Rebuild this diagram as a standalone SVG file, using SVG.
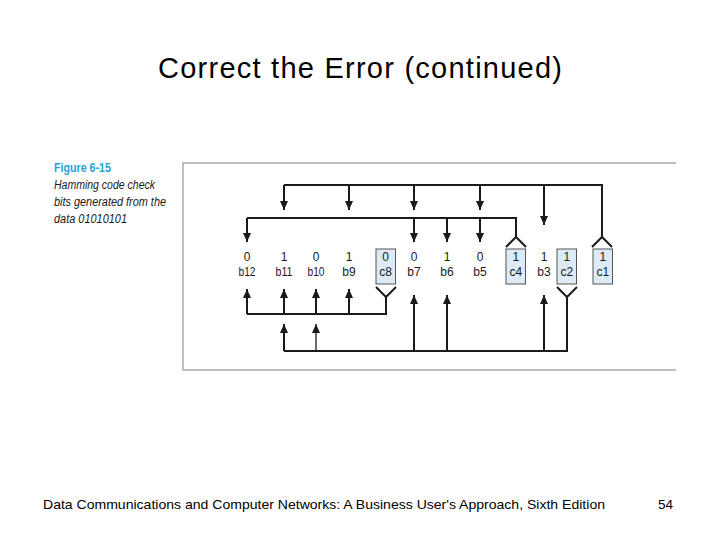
<svg xmlns="http://www.w3.org/2000/svg" width="720" height="540" viewBox="0 0 720 540">
<defs>
<marker id="ah" markerUnits="userSpaceOnUse" markerWidth="9" markerHeight="8" refX="9" refY="4" orient="auto">
<path d="M0,0 L9,4 L0,8 z" fill="#1a1a1a"/>
</marker>
<style>
.ln{fill:none;stroke:#1a1a1a;stroke-width:2;stroke-linejoin:miter}
.ar{fill:none;stroke:#1a1a1a;stroke-width:2;marker-end:url(#ah)}
.box{fill:#dcebf7;stroke:#555;stroke-width:1}
.t{font-family:"Liberation Sans",Arial,sans-serif;font-size:12px;fill:#1a1a1a;text-anchor:middle}
.frame{fill:none;stroke:#aaa;stroke-width:1.5}
.cap{font-family:"Liberation Sans",Arial,sans-serif;font-size:12.5px;font-style:italic;fill:#1a1a1a}
</style>
</defs>
<rect width="720" height="540" fill="#fff"/>
<text x="360" y="78" font-family="Liberation Sans, Arial, sans-serif" font-size="29" text-anchor="middle" textLength="404" lengthAdjust="spacing">Correct the Error (continued)</text>
<text x="43" y="509" font-family="Liberation Sans, Arial, sans-serif" font-size="13.5" textLength="562" lengthAdjust="spacingAndGlyphs">Data Communications and Computer Networks: A Business User's Approach, Sixth Edition</text>
<text x="658" y="509" font-family="Liberation Sans, Arial, sans-serif" font-size="13.5">54</text>
<g id="caption">
<text x="54" y="172" font-family="Liberation Sans, Arial, sans-serif" font-size="12.5" font-weight="bold" fill="#2a9fd6" textLength="57" lengthAdjust="spacingAndGlyphs">Figure 6-15</text>
<text class="cap" x="54" y="189" textLength="101" lengthAdjust="spacingAndGlyphs">Hamming code check</text>
<text class="cap" x="54" y="206" textLength="112" lengthAdjust="spacingAndGlyphs">bits generated from the</text>
<text class="cap" x="54" y="223" textLength="73" lengthAdjust="spacingAndGlyphs">data 01010101</text>
</g>
<path class="frame" d="M676,163 H183 V370 H676"/>
<g id="connectors">
<path class="ar" d="M284,185 V210"/>
<path class="ln" d="M284,185 H602 V237"/>
<path class="ar" d="M349,185 V210"/>
<path class="ar" d="M414,185 V210"/>
<path class="ar" d="M480,185 V210"/>
<path class="ar" d="M544,185 V225"/>
<path class="ln" d="M592,247 L602,237 L612,247"/>
<path class="ar" d="M247,218 V242"/>
<path class="ln" d="M247,218 H516 V237"/>
<path class="ar" d="M414,218 V242"/>
<path class="ar" d="M447,218 V242"/>
<path class="ar" d="M480,218 V242"/>
<path class="ln" d="M506,247 L516,237 L526,247"/>
<path class="ar" d="M247,314 V289"/>
<path class="ln" d="M247,314 H386 V297"/>
<path class="ar" d="M284,314 V289"/>
<path class="ar" d="M316,314 V289"/>
<path class="ar" d="M349,314 V289"/>
<path class="ln" d="M376,287 L386,297 L396,287"/>
<path class="ar" d="M284,351 V324"/>
<path class="ln" d="M284,351 H567 V297"/>
<path class="ar" d="M316,351 V324" style="stroke-width:1.3"/>
<path class="ar" d="M414,351 V295"/>
<path class="ar" d="M447,351 V295"/>
<path class="ar" d="M544,351 V295"/>
<path class="ln" d="M557,287 L567,297 L577,287"/>
</g>
<g id="b12"><text class="t" x="247" y="261">0</text><text class="t" x="247" y="276" textLength="17" lengthAdjust="spacingAndGlyphs">b12</text></g>
<g id="b11"><text class="t" x="284" y="261">1</text><text class="t" x="284" y="276" textLength="17" lengthAdjust="spacingAndGlyphs">b11</text></g>
<g id="b10"><text class="t" x="316" y="261">0</text><text class="t" x="316" y="276" textLength="17" lengthAdjust="spacingAndGlyphs">b10</text></g>
<g id="b9"><text class="t" x="349" y="261">1</text><text class="t" x="349" y="276">b9</text></g>
<g id="c8"><rect class="box" x="376" y="249" width="19.5" height="35"/><text class="t" x="385.7" y="261">0</text><text class="t" x="385.7" y="276">c8</text></g>
<g id="b7"><text class="t" x="414" y="261">0</text><text class="t" x="414" y="276">b7</text></g>
<g id="b6"><text class="t" x="447" y="261">1</text><text class="t" x="447" y="276">b6</text></g>
<g id="b5"><text class="t" x="480" y="261">0</text><text class="t" x="480" y="276">b5</text></g>
<g id="c4"><rect class="box" x="506" y="249" width="19.5" height="35"/><text class="t" x="515.8" y="261">1</text><text class="t" x="515.8" y="276">c4</text></g>
<g id="b3"><text class="t" x="544" y="261">1</text><text class="t" x="544" y="276">b3</text></g>
<g id="c2"><rect class="box" x="557" y="249" width="19.5" height="35"/><text class="t" x="566.8" y="261">1</text><text class="t" x="566.8" y="276">c2</text></g>
<g id="c1"><rect class="box" x="593" y="249" width="19.5" height="35"/><text class="t" x="602.8" y="261">1</text><text class="t" x="602.8" y="276">c1</text></g>
</svg>
